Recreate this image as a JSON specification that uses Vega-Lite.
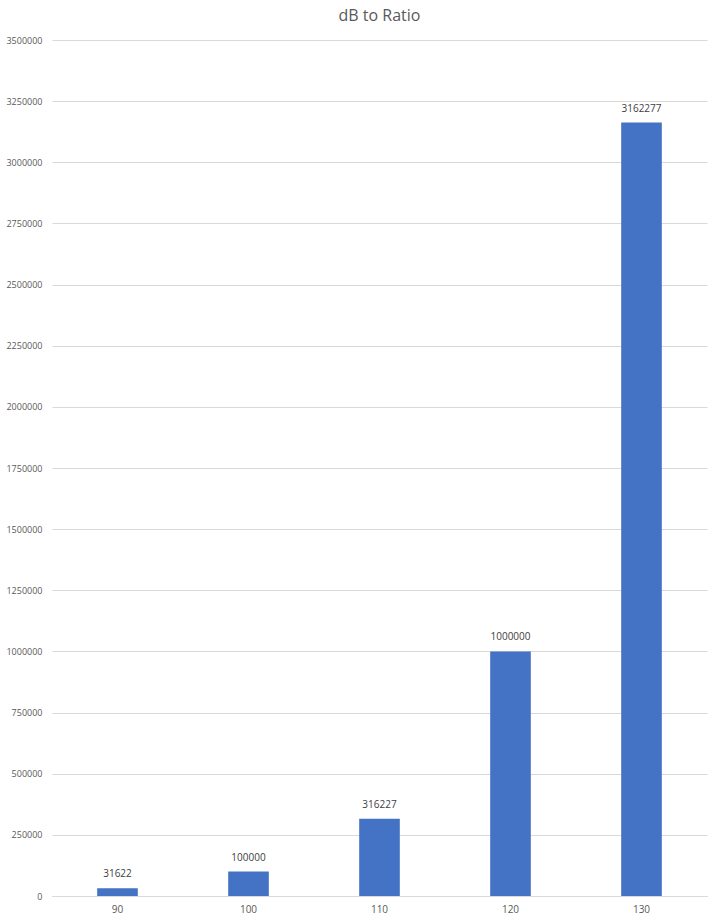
{
  "$schema": "https://vega.github.io/schema/vega-lite/v6.json",
  "autosize": "none",
  "width": 655,
  "height": 856,
  "padding": {"left": 52, "top": 40, "right": 13, "bottom": 27},
  "background": "white",
  "title": {
    "text": "dB to Ratio",
    "fontSize": 16,
    "fontWeight": "normal",
    "font": "Open Sans",
    "color": "#595959",
    "anchor": "middle",
    "offset": 12
  },
  "config": {
    "view": {"stroke": null},
    "font": "Open Sans"
  },
  "data": {
    "values": [
      {"dB": "90", "ratio": 31622},
      {"dB": "100", "ratio": 100000},
      {"dB": "110", "ratio": 316227},
      {"dB": "120", "ratio": 1000000},
      {"dB": "130", "ratio": 3162277}
    ]
  },
  "encoding": {
    "x": {
      "field": "dB",
      "type": "ordinal",
      "sort": null,
      "scale": {"paddingInner": 0.69, "paddingOuter": 0.345},
      "axis": {
        "title": null,
        "labelAngle": 0,
        "labelFontSize": 10,
        "labelColor": "#595959",
        "labelPadding": 8,
        "ticks": false,
        "domainColor": "#d9d9d9",
        "grid": false
      }
    },
    "y": {
      "field": "ratio",
      "type": "quantitative",
      "scale": {"domain": [0, 3500000], "nice": false},
      "axis": {
        "title": null,
        "values": [0, 250000, 500000, 750000, 1000000, 1250000, 1500000, 1750000, 2000000, 2250000, 2500000, 2750000, 3000000, 3250000, 3500000],
        "format": "d",
        "labelFontSize": 9,
        "labelColor": "#595959",
        "labelPadding": 10,
        "ticks": false,
        "domain": false,
        "gridColor": "#d9d9d9"
      }
    }
  },
  "layer": [
    {"mark": {"type": "bar", "color": "#4472C4"}},
    {
      "mark": {"type": "text", "dy": -9, "fontSize": 10, "color": "#404040", "baseline": "bottom"},
      "encoding": {"text": {"field": "ratio", "type": "quantitative", "format": "d"}}
    }
  ]
}
